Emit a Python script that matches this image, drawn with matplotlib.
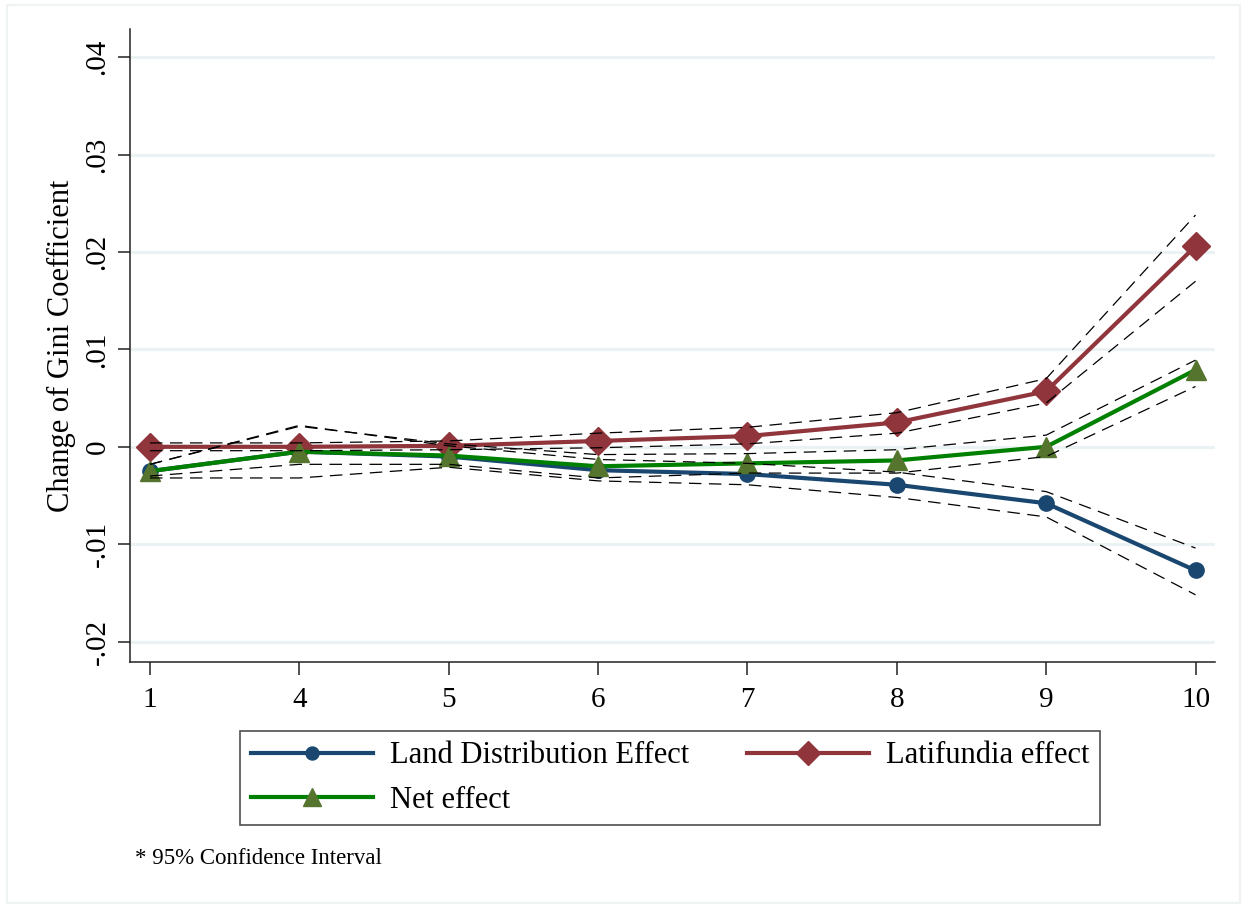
import matplotlib
matplotlib.use('Agg')
import matplotlib.pyplot as plt
from matplotlib.patches import Rectangle

plt.rcParams['font.family'] = ['Liberation Serif', 'DejaVu Serif']

# deciles shown on the x axis (equally spaced categories)
deciles = ['1', '4', '5', '6', '7', '8', '9', '10']

land_dist = [-0.0025, -0.0005, -0.0010, -0.0024, -0.0028, -0.0039, -0.0058, -0.0127]
land_lo = [-0.0032, -0.0032, -0.0021, -0.0035, -0.0039, -0.0052, -0.0072, -0.0152]
land_hi = [-0.0018, 0.0022, 0.0001, -0.0013, -0.0017, -0.0026, -0.0046, -0.0104]

latifundia = [0.0000, 0.0000, 0.0001, 0.0006, 0.0011, 0.0025, 0.0057, 0.0206]
lat_lo = [-0.0004, -0.0004, -0.0003, -0.0001, 0.0003, 0.0014, 0.0045, 0.0170]
lat_hi = [0.0004, 0.0004, 0.0006, 0.0014, 0.0020, 0.0035, 0.0070, 0.0238]

net = [-0.0025, -0.0005, -0.0009, -0.0020, -0.0017, -0.0014, 0.0000, 0.0079]
net_lo = [-0.0030, -0.0018, -0.0018, -0.0032, -0.0027, -0.0027, -0.0010, 0.0062]
net_hi = [-0.0018, 0.0021, 0.0003, -0.0008, -0.0007, -0.0003, 0.0012, 0.0089]

NAVY = '#1a476f'
MAROON = '#90353b'
GREEN_LINE = '#008000'
GREEN_MARK = '#55752f'
GRID = '#eaf2f3'

fig = plt.figure(figsize=(12.47, 9.07), dpi=100)
ax = fig.add_axes([0.1042, 0.2701, 0.8701, 0.6979])

x = list(range(len(deciles)))

for yy in [0.04, 0.03, 0.02, 0.01, 0.0, -0.01, -0.02]:
    ax.axhline(yy, color=GRID, lw=2.2, zorder=0)

l1, = ax.plot(x, land_dist, color=NAVY, lw=3.0, marker='o', ms=11,
              mfc=NAVY, mec=NAVY, zorder=3)
l2, = ax.plot(x, latifundia, color=MAROON, lw=3.0, marker='D', ms=14,
              mfc=MAROON, mec=MAROON, zorder=3)
l3, = ax.plot(x, net, color=GREEN_LINE, lw=3.0, marker='^', ms=15,
              mfc=GREEN_MARK, mec=GREEN_MARK, zorder=3)

for band in [land_lo, land_hi, lat_lo, lat_hi, net_lo, net_hi]:
    ax.plot(x, band, color='black', lw=0.9, ls=(0, (10, 6)), zorder=4)

ax.set_xlim(-0.134, 7.13)
ax.set_ylim(-0.0221, 0.0429)
ax.set_xticks(x)
ax.set_xticklabels(deciles)
ax.set_yticks([-0.02, -0.01, 0, 0.01, 0.02, 0.03, 0.04])
ax.set_yticklabels(['-.02', '-.01', '0', '.01', '.02', '.03', '.04'],
                   rotation=90, va='center')
ax.tick_params(axis='both', direction='out', length=9, width=1.1,
               labelsize=21, color='#222222')
ax.tick_params(axis='x', pad=9)
ax.tick_params(axis='y', pad=5)
ax.spines['top'].set_visible(False)
ax.spines['right'].set_visible(False)
ax.spines['left'].set_color('#222222')
ax.spines['bottom'].set_color('#222222')
ax.spines['left'].set_linewidth(1.1)
ax.spines['bottom'].set_linewidth(1.1)
ax.set_ylabel('Change of Gini Coefficient', fontsize=22, labelpad=6)

# legend filled column-wise: Land / Net in column 1, Latifundia in column 2
leg = fig.legend([l1, l3, l2],
                 ['Land Distribution Effect', 'Net effect', 'Latifundia effect'],
                 ncol=2, loc='center', bbox_to_anchor=(0.5375, 0.1422),
                 fontsize=22, frameon=True, fancybox=False, edgecolor='#222222',
                 handlelength=4.0, columnspacing=1.9, labelspacing=0.5,
                 borderpad=0.35, handletextpad=0.55, markerscale=0.85)
leg.get_frame().set_linewidth(1.2)

fig.text(0.108, 0.0535, '* 95% Confidence Interval', fontsize=16.5, va='center')

# faint outer graph region border
fig.patches.append(Rectangle((0.006, 0.004), 0.988, 0.99, transform=fig.transFigure,
                             fill=False, edgecolor='#eef3f4', lw=1.5))

fig.savefig('out.png', dpi=100, facecolor='white')
